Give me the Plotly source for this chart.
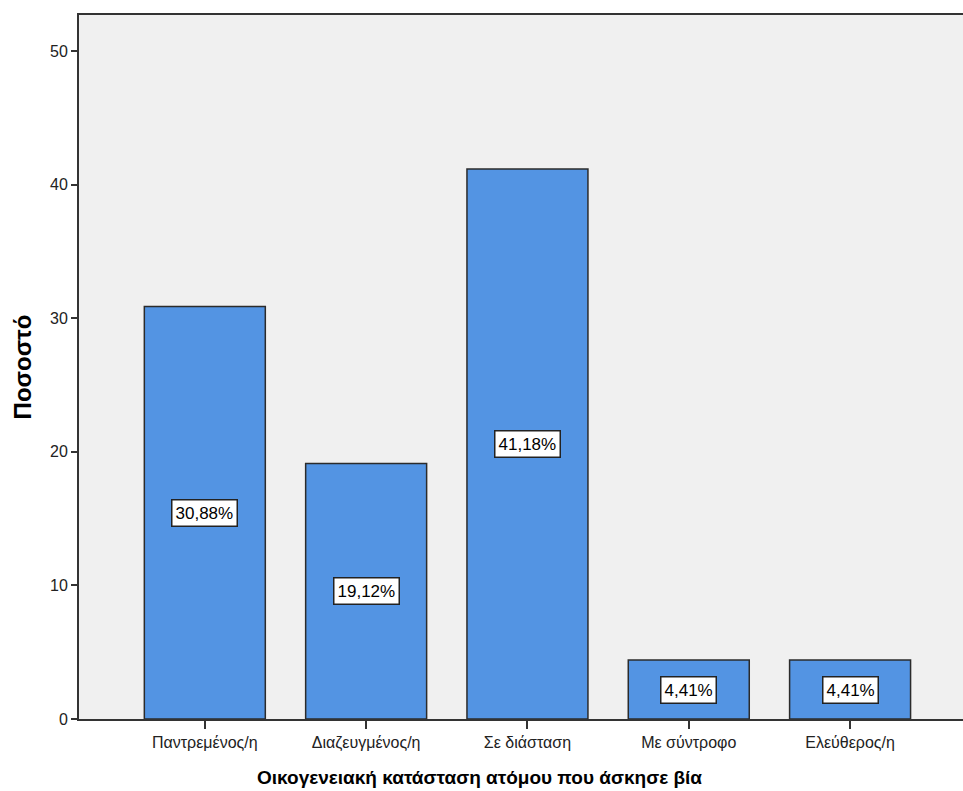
import plotly.graph_objects as go

# data
categories = ["Παντρεμένος/η", "Διαζευγμένος/η", "Σε διάσταση", "Με σύντροφο", "Ελεύθερος/η"]
percent = [30.88, 19.12, 41.18, 4.41, 4.41]
y_ticks = [0, 10, 20, 30, 40, 50]

labels = [f"{v:.2f}%".replace(".", ",") for v in percent]

fig = go.Figure()
fig.add_trace(go.Bar(
    x=list(range(len(categories))),
    y=percent,
    width=0.75,
    marker=dict(color="#5394E3", line=dict(color="#2b2b2b", width=1.5)),
    hoverinfo="skip",
))

# value labels in the middle of each bar
for i, (v, t) in enumerate(zip(percent, labels)):
    fig.add_annotation(
        x=i, y=v / 2, text=t, showarrow=False,
        font=dict(family="Liberation Sans, Arial", size=17, color="black"),
        bgcolor="white", bordercolor="#222", borderwidth=1.5, borderpad=3,
    )

# x axis title, centred a bit left of the plot centre like the original
fig.add_annotation(
    xref="paper", yref="paper", x=0.4536, y=-0.083,
    xanchor="center", yanchor="middle", showarrow=False,
    text="<b>Οικογενειακή κατάσταση ατόμου που άσκησε βία</b>",
    font=dict(family="Liberation Sans, Arial", size=19, color="black"),
)

fig.update_layout(
    width=963, height=791,
    margin=dict(l=79, r=0, t=15, b=72),
    plot_bgcolor="#F0F0F0",
    paper_bgcolor="white",
    showlegend=False,
    font=dict(family="Liberation Sans, Arial", size=16, color="#222"),
    xaxis=dict(
        range=[-0.78, 4.70],
        tickvals=list(range(len(categories))),
        ticktext=categories,
        ticks="outside", ticklen=8, tickwidth=1.5, tickcolor="#333",
        showline=True, linecolor="#333", linewidth=2, mirror=True,
        showgrid=False, zeroline=False,
        tickfont=dict(size=16),
    ),
    yaxis=dict(
        range=[0, 52.7],
        tickvals=y_ticks,
        ticks="outside", ticklen=6, tickwidth=1.5, tickcolor="#333",
        showline=True, linecolor="#333", linewidth=2,
        showgrid=False, zeroline=False,
        tickfont=dict(size=16),
        title=dict(text="<b>Ποσοστό</b>", font=dict(size=24, color="black"), standoff=12),
    ),
)

# drop the browser's default body margin so the figure sits at the page corner
fig.write_html("out.html", config={"displayModeBar": False},
               post_script="document.body.style.margin='0px';")
